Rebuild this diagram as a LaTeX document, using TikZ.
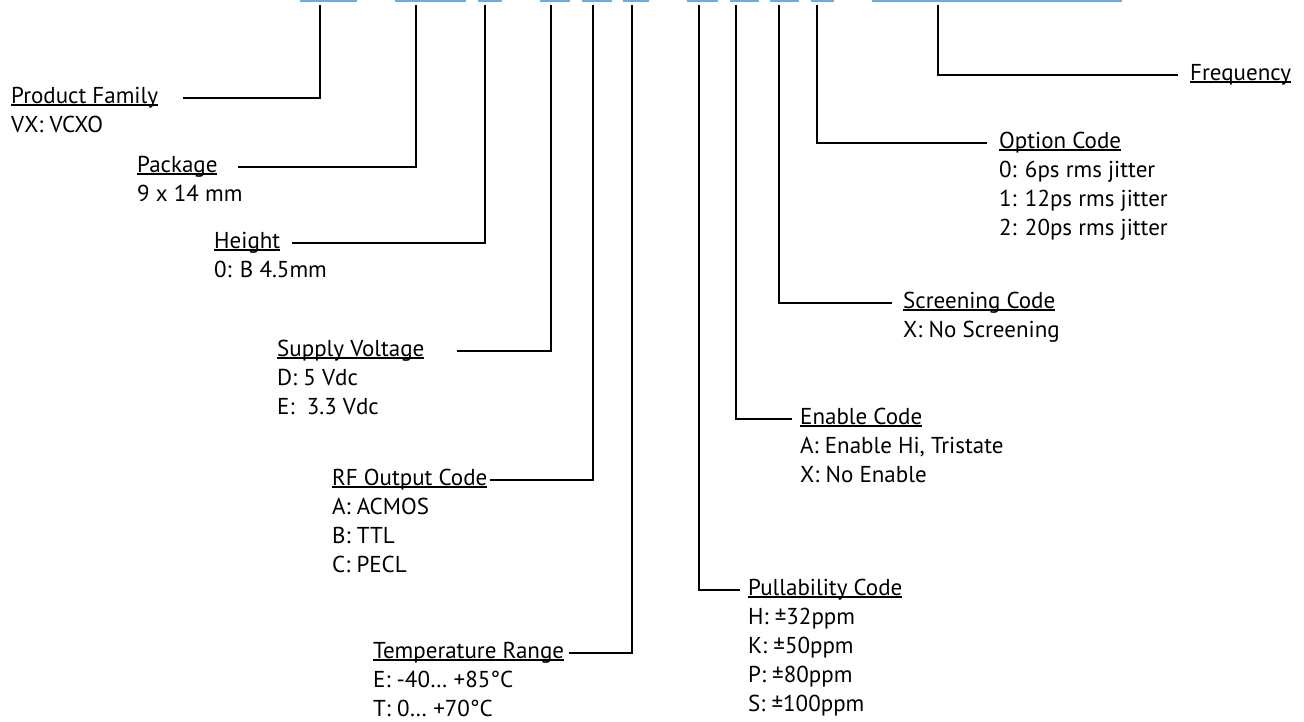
\documentclass[tikz,border=0pt]{standalone}
\usepackage{fontspec}
\setmainfont{PT Sans}
\usetikzlibrary{
  positioning,  % below=of ...
}
\definecolor{barblue}{RGB}{107,174,222}
\newcommand{\ttl}[1]{%
  \setbox0\hbox{#1}\rlap{\rule[-2.7pt]{\wd0}{1.3pt}}\box0}
\newcommand{\lst}[1]{\begin{tabular}[t]{@{}l@{}}#1\end{tabular}}
\tikzset{
  x=1pt,
  y=-1pt,
  every node/.style={
    inner sep=0pt,
    font=\fontsize{23}{29}\selectfont
  },
  title/.style={anchor=base west},
  opts/.style={anchor=base west},
  lead/.style={line width=2pt},
  bar/.style={fill=barblue}
}
\begin{document}
\begin{tikzpicture}
\useasboundingbox (0,0) rectangle (1304,721);
% code bars along the top
\foreach \a/\b in {300/357,395/466,478/502,540/570,582/612,623/649,
                   687/718,730/759,770/799,811/834,872/1122}
  \fill[bar] (\a,0) rectangle (\b,1.8);
\coordinate (t1)  at (320,5);
\coordinate (t2)  at (416,5);
\coordinate (t3)  at (485,5);
\coordinate (t4)  at (551,5);
\coordinate (t5)  at (593,5);
\coordinate (t6)  at (632,5);
\coordinate (t7)  at (699,5);
\coordinate (t8)  at (736,5);
\coordinate (t9)  at (779,5);
\coordinate (t10) at (817,5);
\coordinate (t11) at (938,5);
% left side
\node[title] (pf) at (11,103)  {\ttl{Product Family}};
\node[title] (pk) at (137,172) {\ttl{Package}};
\node[title] (ht) at (214,248) {\ttl{Height}};
\node[title] (sv) at (277,356) {\ttl{Supply Voltage}};
\node[title] (rf) at (332,485) {\ttl{RF Output Code}};
\node[title] (tr) at (373,658) {\ttl{Temperature Range}};
\node (pf-o) [below=29pt of pf.base west,opts] {\lst{VX: VCXO}};
\node (pk-o) [below=29pt of pk.base west,opts] {\lst{9 x 14 mm}};
\node (ht-o) [below=29pt of ht.base west,opts] {\lst{0: B 4.5mm}};
\node (sv-o) [below=29pt of sv.base west,opts] {\lst{D: 5 Vdc\\E: \ 3.3 Vdc}};
\node (rf-o) [below=29pt of rf.base west,opts] {\lst{A: ACMOS\\B: TTL\\C: PECL}};
\node (tr-o) [below=29pt of tr.base west,opts] {\lst{E: -40… +85°C\\T: 0… +70°C}};
% right side
\node[title] (pc) at (748,595)  {\ttl{Pullability Code}};
\node[title] (ec) at (800,424)  {\ttl{Enable Code}};
\node[title] (sc) at (903,308)  {\ttl{Screening Code}};
\node[title] (oc) at (999,148)  {\ttl{Option Code}};
\node[title] (fq) at (1190,80)  {\ttl{Frequency}};
\node (pc-o) [below=29pt of pc.base west,opts] {\lst{H: ±32ppm\\K: ±50ppm\\P: ±80ppm\\S: ±100ppm}};
\node (ec-o) [below=29pt of ec.base west,opts] {\lst{A: Enable Hi, Tristate\\X: No Enable}};
\node (sc-o) [below=29pt of sc.base west,opts] {\lst{X: No Screening}};
\node (oc-o) [below=29pt of oc.base west,opts] {\lst{0: 6ps rms jitter\\1: 12ps rms jitter\\2: 20ps rms jitter}};
% leaders
\draw[lead] ([xshift=25pt,yshift=5pt]pf.base east) -| (t1);
\draw[lead] ([xshift=20pt,yshift=5pt]pk.base east) -| (t2);
\draw[lead] ([xshift=12pt,yshift=5pt]ht.base east) -| (t3);
\draw[lead] ([xshift=33pt,yshift=5pt]sv.base east) -| (t4);
\draw[lead] ([xshift=2pt,yshift=5pt]rf.base east)  -| (t5);
\draw[lead] ([xshift=5pt,yshift=5pt]tr.base east)  -| (t6);
\draw[lead] (t7)  |- ([xshift=-8pt,yshift=5pt]pc.base west);
\draw[lead] (t8)  |- ([xshift=-8pt,yshift=5pt]ec.base west);
\draw[lead] (t9)  |- ([xshift=-11pt,yshift=5pt]sc.base west);
\draw[lead] (t10) |- ([xshift=-12pt,yshift=5pt]oc.base west);
\draw[lead] (t11) |- ([xshift=-12pt,yshift=5pt]fq.base west);
\end{tikzpicture}
\end{document}
